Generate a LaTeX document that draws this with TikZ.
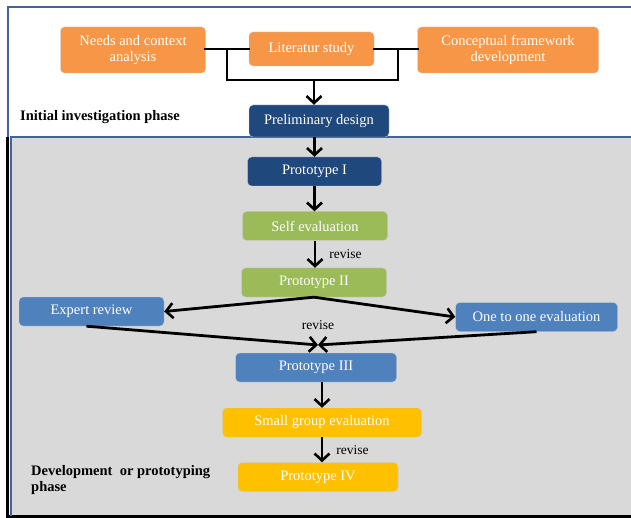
\documentclass[tikz,border=0pt]{standalone}
\usepackage{fontspec}
\setmainfont{Liberation Serif}
\usetikzlibrary{arrows.meta,positioning,calc}
\definecolor{cOrange}{HTML}{F79646}
\definecolor{cNavy}{HTML}{1F497D}
\definecolor{cGreen}{HTML}{9BBB59}
\definecolor{cBlue}{HTML}{4F81BD}
\definecolor{cGold}{HTML}{FFC000}
\definecolor{cFrame}{HTML}{41659A}
\definecolor{cPanel}{HTML}{D9D9D9}
\tikzset{
  box/.style    = {rounded corners=4pt, align=center, text=white, inner sep=2pt,
                   draw=white!80!black, line width=0.4pt,
                   font=\fontsize{14.5}{16.5}\selectfont},
  study/.style  = {box, fill=cOrange},
  design/.style = {box, fill=cNavy},
  selfev/.style = {box, fill=cGreen},
  review/.style = {box, fill=cBlue},
  group/.style  = {box, fill=cGold},
  link/.style   = {line width=2.8pt, line cap=rect},
  flow/.style   = {-{Straight Barb[length=7pt,width=15pt,line width=2.6pt]}, line width=2.8pt},
  note/.style   = {font=\fontsize{13.5}{15}\selectfont, inner sep=1pt},
  phase/.style  = {font=\bfseries\fontsize{14.5}{16.5}\selectfont, align=left, inner sep=0pt},
}

\begin{document}
\begin{tikzpicture}[x=1pt, y=-1pt]
  \useasboundingbox (0,0) rectangle (631,518);
  \clip (0,0) rectangle (631,518);
  % the two phase panels
  \fill[white] (8,7) rectangle (640,137);
  \draw[cFrame, line width=2pt] (8,137) -- (8,7.5) -- (640,7.5);
  \fill[cPanel] (10,137) rectangle (640,516);
  \draw[black, line width=3pt] (7.5,137) -- (7.5,516.5) -- (640,516.5);
  \draw[cFrame, line width=2pt] (10.5,516) -- (10.5,137) -- (640,137);

  % initial investigation phase
  \node[study, minimum width=145, minimum height=46] (needs) at (133,50)
    {Needs and context\\ analysis};
  \node[study, minimum width=125, minimum height=34] (lit) at (311.5,49)
    {Literatur study};
  \node[study, minimum width=181, minimum height=46] (concept) at (508,50)
    {Conceptual framework\\ development};
  \node[design, minimum width=140, minimum height=32] (prelim) at (319,121)
    {Preliminary design};
  \node[phase, anchor=west] (initial) at (20,117) {Initial investigation phase};

  \coordinate (jl) at (227,80);
  \coordinate (jr) at (398,80);
  \coordinate (jm) at (314,80);
  \draw[link] (needs.east |- lit.west) -- (lit.west);
  \draw[link] (lit.east) -- (concept.west |- lit.east);
  \draw[link] (jl |- lit.west) -- (jl) -- (jr) -- (jr |- lit.east);
  \draw[flow] (jm) -- (jm |- prelim.north);

  % development phase
  \node[design, minimum width=134, minimum height=29] (proto1) at (314.5,171.5)
    {Prototype I};
  \node[selfev, minimum width=145, minimum height=29] (self) at (315,226)
    {Self evaluation};
  \node[selfev, minimum width=145, minimum height=29] (proto2) at (314,282.5)
    {Prototype II};
  \node[review, minimum width=145, minimum height=29] (expert) at (91.5,311.5)
    {Expert review};
  \node[review, minimum width=162, minimum height=29] (oneone) at (536.5,317)
    {One to one evaluation};
  \node[review, minimum width=161, minimum height=29] (proto3) at (316,367.5)
    {Prototype III};
  \node[group, minimum width=199, minimum height=29] (small) at (322,422.5)
    {Small group evaluation};
  \node[group, minimum width=160, minimum height=29] (proto4) at (318,477)
    {Prototype IV};
  \node[phase, anchor=north west] (devel) at (31,465)
    {Development\ \ or prototyping\\ phase};

  \draw[flow] (proto1.north |- prelim.south) -- (proto1.north);
  \draw[flow] (proto1.south) -- (proto1.south |- self.north);
  \draw[flow] (self.south) -- node[note, right=12pt] {revise} (self.south |- proto2.north);
  \draw[flow] (proto2.south) -- (expert.east);
  \draw[flow] (proto2.south) -- (oneone.west);
  \node[note] (rev2) at (318,325) {revise};
  \coordinate (merge) at (318,345);
  \draw[flow] ([xshift=-5pt]expert.south) -- (merge);
  \draw[flow] (oneone.south) -- (merge);
  \draw[flow] (small.north |- proto3.south) -- (small.north);
  \draw[flow] (small.south) -- node[note, right=12pt] {revise} (small.south |- proto4.north);
\end{tikzpicture}
\end{document}
